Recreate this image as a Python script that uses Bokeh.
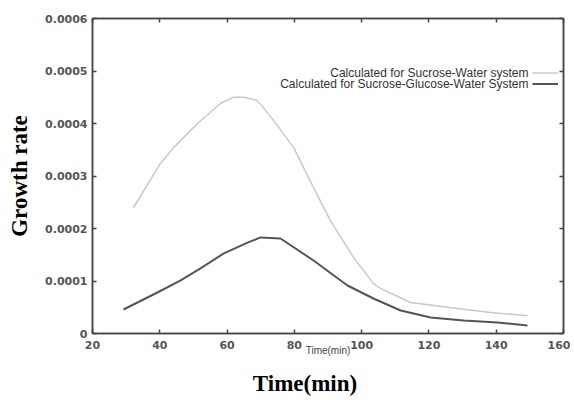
from bokeh.plotting import figure
from bokeh.models import (LinearAxis, FixedTicker, Legend, LegendItem, Range1d)
from bokeh.core.properties import value
from bokeh.embed import file_html
from bokeh.resources import INLINE

# Data
t_sw = [32.2, 40.2, 44.1, 51.2, 58.0, 61.9, 64.9, 69.0, 73.8, 79.8, 85.7, 90.7,
        97.6, 103.5, 105.6, 114.5, 125.5, 138.3, 149.3]
g_sw = [0.000240, 0.000324, 0.000354, 0.000400, 0.000438, 0.000450, 0.000450,
        0.000444, 0.000406, 0.000354, 0.000278, 0.000215, 0.000145, 0.000095,
        0.000086, 0.000059, 0.000050, 0.000040, 0.000034]

t_sgw = [29.2, 39.3, 46.2, 52.1, 58.9, 66.1, 69.9, 75.9, 85.7, 95.8, 103.5,
         111.6, 120.5, 130.3, 140.4, 149.3]
g_sgw = [0.0000457, 0.0000781, 0.000101, 0.000124, 0.000152, 0.000173, 0.000183,
         0.000181, 0.000139, 0.0000914, 0.0000667, 0.0000438, 0.0000305,
         0.0000248, 0.000021, 0.0000152]

x_ticks = [20, 40, 60, 80, 100, 120, 140, 160]
y_ticks = [0, 0.0001, 0.0002, 0.0003, 0.0004, 0.0005, 0.0006]
y_tick_labels = ["0", "0.0001", "0.0002", "0.0003", "0.0004", "0.0005", "0.0006"]

series_names = ["Calculated for Sucrose-Water system",
                "Calculated for Sucrose-Glucose-Water System"]

axis_color = "#444444"
tick_font = "DejaVu Sans"

p = figure(width=570, height=400, output_backend="svg", toolbar_location=None,
           x_range=Range1d(20, 160), y_range=Range1d(0, 0.0006),
           min_border_left=92, min_border_right=7, min_border_top=18,
           min_border_bottom=67)
p.xgrid.visible = False
p.ygrid.visible = False
p.outline_line_color = axis_color
p.outline_line_width = 1.5

r1 = p.line(t_sw, g_sw, line_color="#c9c9c9", line_width=1.5)
r2 = p.line(t_sgw, g_sgw, line_color="#555555", line_width=2)

def style(ax, labels=True):
    ax.axis_line_color = axis_color
    ax.axis_line_width = 1.5
    ax.major_tick_line_color = axis_color
    ax.major_tick_line_width = 1.5
    ax.major_tick_in = 4
    ax.major_tick_out = 0
    ax.minor_tick_line_color = None
    if labels:
        ax.major_label_text_font = tick_font
        ax.major_label_text_font_size = "11px"
        ax.major_label_text_color = "#555555"
        ax.major_label_text_font_style = "bold"
    else:
        ax.major_label_text_font_size = "1px"
        ax.major_label_text_color = None
        ax.major_label_standoff = 0

xb = p.xaxis[0]
yl = p.yaxis[0]
xb.ticker = FixedTicker(ticks=x_ticks)
yl.ticker = FixedTicker(ticks=y_ticks)
yl.major_label_overrides = {v: s for v, s in zip(y_ticks, y_tick_labels)}
style(xb)
style(yl)
xb.major_label_standoff = 7
yl.major_label_standoff = 5

# small inner x label (gnuplot-style)
xb.axis_label = "Time(min)"
xb.axis_label_text_font = "Liberation Sans"
xb.axis_label_text_font_size = "10px"
xb.axis_label_text_font_style = "normal"
xb.axis_label_text_color = "#444444"
xb.axis_label_standoff = -7

# big y label
yl.axis_label = "Growth rate"
yl.axis_label_text_font = "Liberation Serif"
yl.axis_label_text_font_size = "23px"
yl.axis_label_text_font_style = "bold"
yl.axis_label_text_color = "black"
yl.axis_label_standoff = 10

# big x label on a second, bare bottom axis
xb2 = LinearAxis(ticker=FixedTicker(ticks=[]), axis_line_color=None,
                 major_tick_line_color=None, minor_tick_line_color=None,
                 major_label_text_font_size="1px", major_label_text_color=None,
                 major_label_standoff=0,
                 axis_label="Time(min)" + "\u00a0" * 8,
                 axis_label_text_font="Liberation Serif",
                 axis_label_text_font_size="23px", axis_label_text_font_style="bold",
                 axis_label_text_color="black", axis_label_standoff=12)
p.add_layout(xb2, "below")

top = LinearAxis(ticker=FixedTicker(ticks=x_ticks))
right = LinearAxis(ticker=FixedTicker(ticks=y_ticks))
style(top, labels=False)
style(right, labels=False)
p.add_layout(top, "above")
p.add_layout(right, "right")

# Legend: glyphs on the right, texts right-aligned to their left
legend = Legend(items=[LegendItem(label=value(""), renderers=[r1]),
                       LegendItem(label=value(""), renderers=[r2])],
                location=(440, 244), padding=0, margin=0, spacing=0,
                glyph_width=26, glyph_height=11, label_width=0, label_height=11,
                label_standoff=0, border_line_color=None, background_fill_alpha=0,
                label_text_font_size="1px")
p.add_layout(legend)

leg_y = [0.000497, 0.000476]
for name, yy in zip(series_names, leg_y):
    p.text(x=[149.6], y=[yy], text=[name], text_align="right",
           text_baseline="middle", text_font=value("Liberation Sans"),
           text_font_size="12px", text_color="#333333")

open("out.html", "w").write(file_html(p, INLINE))
